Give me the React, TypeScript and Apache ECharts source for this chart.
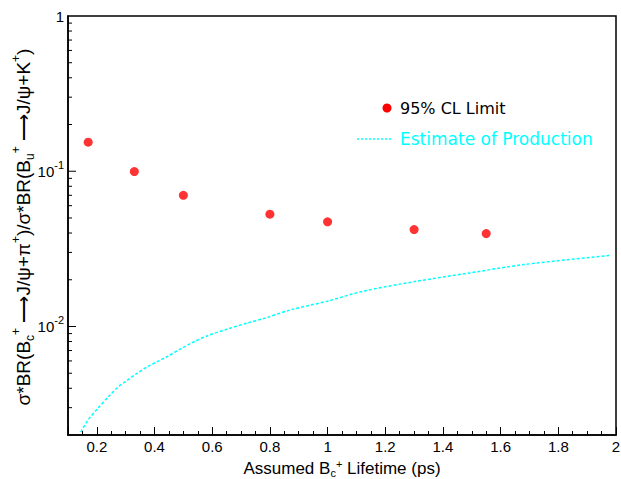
import React, { useEffect, useRef } from "react";
import * as echarts from "echarts";

// 95% CL limit points
const limitX = [0.17, 0.33, 0.5, 0.8, 1.0, 1.3, 1.55];
const limitY = [0.1538, 0.0995, 0.07, 0.0529, 0.0472, 0.0421, 0.0397];

// Estimate of production curve
const estX = [0.144, 0.169, 0.204, 0.239, 0.273, 0.302, 0.337, 0.377, 0.406, 0.447, 0.493, 0.539, 0.586, 0.655, 0.724, 0.782, 0.876, 0.999, 1.123, 1.308, 1.494, 1.679, 1.976];
const estY = [0.00209, 0.00249, 0.00298, 0.00351, 0.00407, 0.00445, 0.00496, 0.00553, 0.00589, 0.00645, 0.00722, 0.008, 0.00875, 0.00966, 0.01056, 0.01131, 0.01286, 0.01455, 0.01687, 0.01955, 0.02214, 0.02504, 0.02862];

// y axis tick values (log axis)
const yMajorTicks = [0.01, 0.1];
const yMinorTicks = [
  0.003, 0.004, 0.005, 0.006, 0.007, 0.008, 0.009,
  0.02, 0.03, 0.04, 0.05, 0.06, 0.07, 0.08, 0.09,
  0.2, 0.3, 0.4, 0.5, 0.6, 0.7, 0.8, 0.9,
];

const X_MIN = 0.1;
const X_MAX = 2;
const Y_MIN = 0.002;
const Y_MAX = 1;

const FONT = "Liberation Sans";
const LEGEND_FONT = "DejaVu Sans";

export default function App() {
  const ref = useRef<HTMLDivElement>(null);

  useEffect(() => {
    if (!ref.current) return;
    const chart = echarts.init(ref.current, null, { renderer: "svg" });

    const tickData = [
      ...yMajorTicks.map((v) => [X_MIN, v, 8]),
      ...yMinorTicks.map((v) => [X_MIN, v, 4]),
    ];

    const option: any = {
      animation: false,
      backgroundColor: "#fff",
      grid: {
        left: 68,
        right: 5,
        top: 16,
        bottom: 44,
        outerBoundsMode: "none",
        containLabel: false,
        show: true,
        borderColor: "#000",
        borderWidth: 1.5,
        backgroundColor: "transparent",
      },
      xAxis: {
        type: "value",
        min: X_MIN,
        max: X_MAX,
        splitNumber: 10,
        splitLine: { show: false },
        axisLine: { show: true, lineStyle: { color: "#000", width: 1.5 } },
        axisTick: { show: true, inside: true, length: 8, lineStyle: { color: "#000", width: 1 } },
        minorTick: { show: true, splitNumber: 4, length: 4, lineStyle: { color: "#000", width: 1 } },
        axisLabel: {
          fontFamily: FONT,
          fontSize: 15,
          color: "#000",
          margin: 4,
          formatter: (v: number) => (v < 0.15 ? "" : String(Math.round(v * 10) / 10)),
        },
        name: "Assumed B{sub|c}{sup|+} Lifetime (ps)",
        nameLocation: "middle",
        nameGap: 19,
        nameTextStyle: {
          fontFamily: FONT,
          fontSize: 17,
          color: "#000",
          lineHeight: 20,
          rich: {
            sup: { fontSize: 11, lineHeight: 10, verticalAlign: "top", fontFamily: FONT, color: "#000" },
            sub: { fontSize: 11, lineHeight: 10, verticalAlign: "bottom", fontFamily: FONT, color: "#000" },
          },
        },
      },
      yAxis: {
        type: "log",
        logBase: 10,
        min: Y_MIN,
        max: Y_MAX,
        splitLine: { show: false },
        axisLine: { show: true, lineStyle: { color: "#000", width: 1.5 } },
        axisTick: { show: false },
        axisLabel: {
          margin: 4,
          fontFamily: FONT,
          fontSize: 15,
          color: "#000",
          formatter: (v: number) => {
            const l = Math.log10(v);
            const e = Math.round(l);
            if (Math.abs(l - e) > 1e-6) return "";
            if (e === 0) return "{n|1}";
            return "{n|10}{s|" + e + "}";
          },
          rich: {
            n: { fontSize: 15, lineHeight: 24, fontFamily: FONT, color: "#000" },
            s: { fontSize: 11, lineHeight: 11, verticalAlign: "top", fontFamily: FONT, color: "#000" },
          },
        },
      },
      series: [
        {
          type: "custom",
          coordinateSystem: "cartesian2d",
          data: tickData,
          encode: { x: 0, y: 1 },
          silent: true,
          renderItem: (params: any, api: any) => {
            const p = api.coord([api.value(0), api.value(1)]);
            const len = api.value(2);
            return {
              type: "line",
              shape: { x1: p[0], y1: p[1], x2: p[0] + len, y2: p[1] },
              style: { stroke: "#000", lineWidth: 1 },
            };
          },
        },
        {
          type: "line",
          data: estX.map((x, i) => [x, estY[i]]),
          smooth: 0.3,
          symbol: "none",
          clip: true,
          lineStyle: { color: "#00ffff", width: 1.5, type: [3, 2] },
        },
        {
          type: "scatter",
          data: limitX.map((x, i) => [x, limitY[i]]),
          symbol: "circle",
          symbolSize: 9,
          itemStyle: { color: "#ff0000" },
        },
      ],
      graphic: [
        {
          type: "text",
          x: 23,
          y: 227,
          rotation: Math.PI / 2,
          style: {
            text:
              "σ*BR(B{sub|c}{sup|+} ⟶J/ψ+π{sup|+})/σ*BR(B{sub|u}{sup|+} ⟶J/ψ+K{sup|+})",
            fontFamily: FONT,
            fontSize: 19,
            lineHeight: 26,
            fill: "#000",
            align: "center",
            verticalAlign: "middle",
            rich: {
              sup: { fontSize: 12, lineHeight: 12, verticalAlign: "top", fontFamily: FONT, fill: "#000" },
              sub: { fontSize: 12, lineHeight: 12, verticalAlign: "bottom", fontFamily: FONT, fill: "#000" },
            },
          },
        },
        {
          type: "circle",
          shape: { cx: 387, cy: 108, r: 4.5 },
          style: { fill: "#ff0000" },
        },
        {
          type: "text",
          x: 400,
          y: 108,
          style: {
            text: "95% CL Limit",
            fontFamily: LEGEND_FONT,
            fontSize: 16,
            fill: "#000",
            align: "left",
            verticalAlign: "middle",
          },
        },
        {
          type: "line",
          shape: { x1: 357, y1: 139, x2: 393, y2: 139 },
          style: { stroke: "#00ffff", lineWidth: 1.5, lineDash: [2, 2] },
        },
        {
          type: "text",
          x: 400,
          y: 139,
          style: {
            text: "Estimate of Production",
            fontFamily: LEGEND_FONT,
            fontSize: 17,
            fill: "#00ffff",
            align: "left",
            verticalAlign: "middle",
          },
        },
      ],
    };

    chart.setOption(option);
    return () => chart.dispose();
  }, []);

  return (
    <div
      ref={ref}
      style={{ position: "absolute", left: 0, top: 0, width: 621, height: 479 }}
    />
  );
}
